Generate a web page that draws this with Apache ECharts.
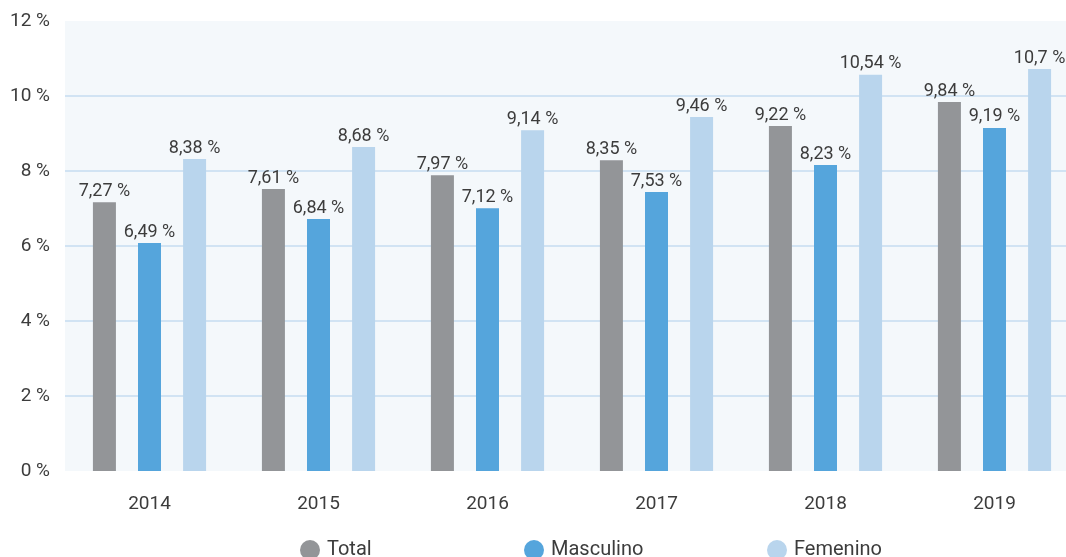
<!DOCTYPE html>
<html>
<head>
<meta charset="utf-8">
<script src="https://cdn.jsdelivr.net/npm/echarts@6/dist/echarts.min.js"></script>
<style>
html,body{margin:0;padding:0;background:#ffffff;overflow:hidden;}
#chart{width:1079px;height:557px;}
</style>
</head>
<body>
<div id="chart"></div>
<script>
const categories = ['2014', '2015', '2016', '2017', '2018', '2019'];
const seriesNames = ['Total', 'Masculino', 'Femenino'];
// bar heights as drawn in the reference (%)
const totalValues = [7.17, 7.52, 7.89, 8.29, 9.20, 9.84];
const masculinoValues = [6.08, 6.72, 7.01, 7.44, 8.16, 9.15];
const femeninoValues = [8.32, 8.64, 9.09, 9.44, 10.57, 10.72];
// printed labels
const totalLabels = ['7,27 %', '7,61 %', '7,97 %', '8,35 %', '9,22 %', '9,84 %'];
const masculinoLabels = ['6,49 %', '6,84 %', '7,12 %', '7,53 %', '8,23 %', '9,19 %'];
const femeninoLabels = ['8,38 %', '8,68 %', '9,14 %', '9,46 %', '10,54 %', '10,7 %'];
const yTicks = [0, 2, 4, 6, 8, 10, 12];

const colors = ['#939598', '#55a5dc', '#b9d5ed'];
const FONT = 'Roboto, "Liberation Sans", sans-serif';
const TXT = '#3c3c3c';

function mkSeries(name, values, labels, color) {
  return {
    name: name,
    type: 'bar',
    barWidth: 23,
    barGap: '96%',
    data: values,
    itemStyle: { color: color },
    label: {
      show: true,
      position: 'top',
      distance: 2,
      fontFamily: FONT,
      fontSize: 18,
      color: TXT,
      formatter: function (p) { return labels[p.dataIndex]; }
    }
  };
}

const chart = echarts.init(document.getElementById('chart'), null, { renderer: 'canvas' });
const legendBase = {
  orient: 'horizontal',
  top: 535,
  icon: 'circle',
  itemWidth: 20,
  itemHeight: 20,
  itemGap: 11,
  textStyle: { fontFamily: FONT, fontSize: 20, color: TXT, padding: [0, 0, 0, 2] },
  selectedMode: false
};
chart.setOption({
  animation: false,
  color: colors,
  grid: {
    left: 65, right: 0, top: 21, height: 450,
    show: true, backgroundColor: '#f4f8fb', borderWidth: 0, containLabel: false
  },
  legend: [
    Object.assign({}, legendBase, { left: 295, data: [seriesNames[0]] }),
    Object.assign({}, legendBase, { left: 519, data: [seriesNames[1]] }),
    Object.assign({}, legendBase, { left: 762, data: [seriesNames[2]] })
  ],
  xAxis: {
    type: 'category',
    data: categories,
    axisLine: { show: false },
    axisTick: { show: false },
    axisLabel: { margin: 24, fontFamily: FONT, fontSize: 19, color: TXT }
  },
  yAxis: {
    type: 'value',
    min: yTicks[0],
    max: yTicks[yTicks.length - 1],
    interval: 2,
    axisLine: { show: false },
    axisTick: { show: false },
    axisLabel: {
      margin: 15, fontFamily: FONT, fontSize: 19, color: TXT,
      formatter: function (v) { return v + ' %'; }
    },
    splitLine: {
      show: true, showMinLine: false, showMaxLine: false,
      lineStyle: { color: '#c6ddf1', width: 1.5 }
    }
  },
  series: [
    mkSeries(seriesNames[0], totalValues, totalLabels, colors[0]),
    mkSeries(seriesNames[1], masculinoValues, masculinoLabels, colors[1]),
    mkSeries(seriesNames[2], femeninoValues, femeninoLabels, colors[2])
  ]
});
</script>
</body>
</html>
